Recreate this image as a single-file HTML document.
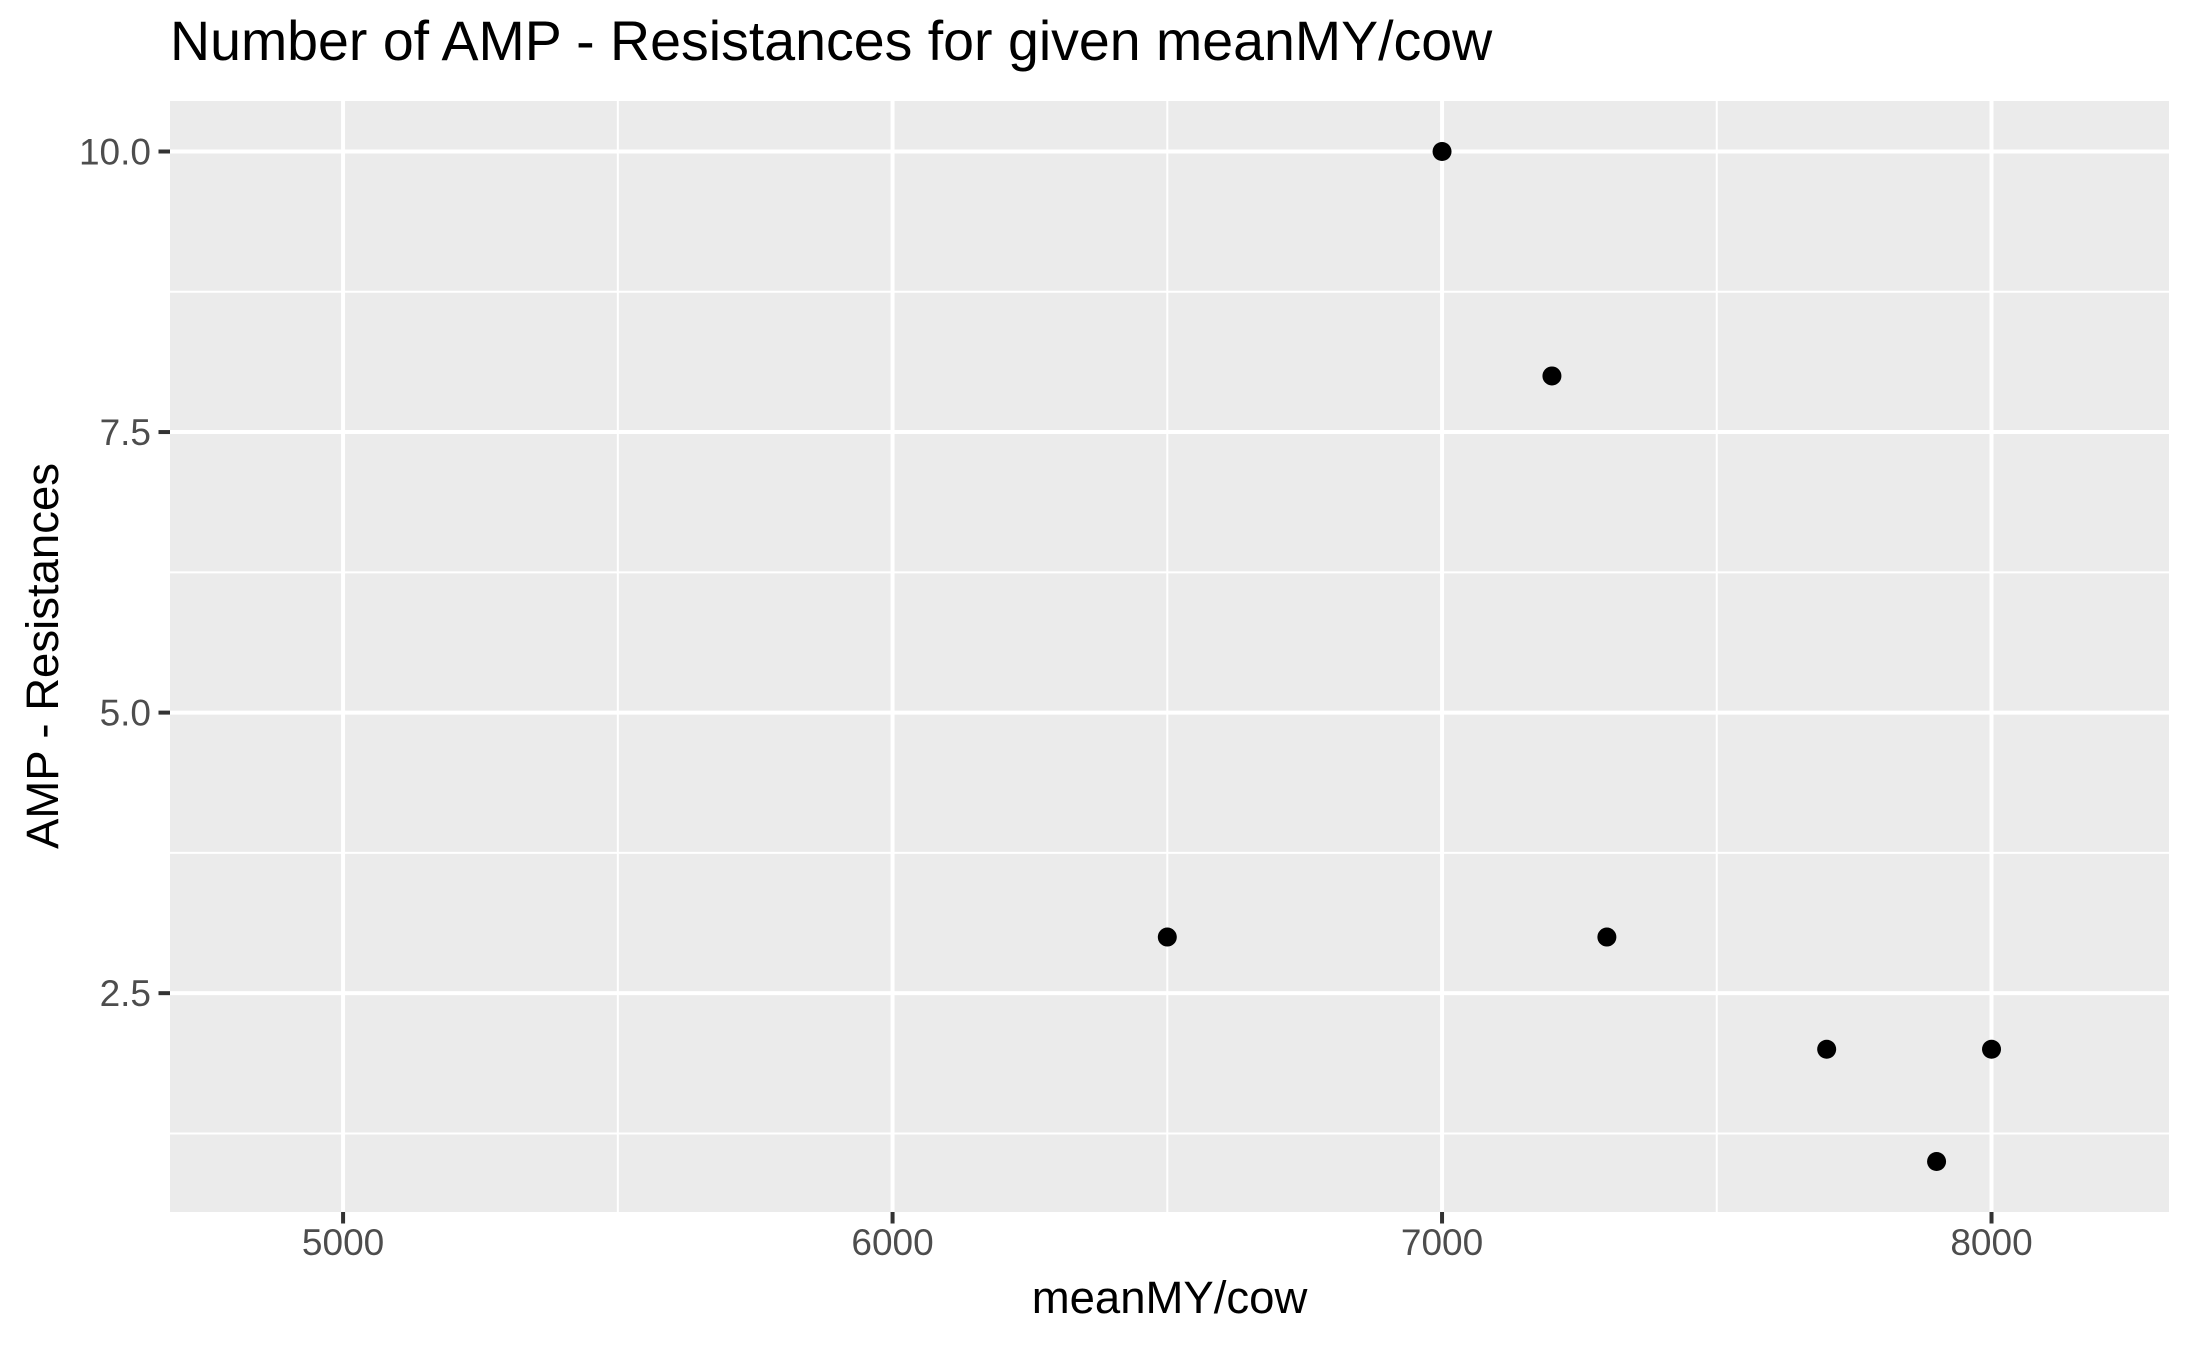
<!DOCTYPE html>
<html><head><meta charset="utf-8"><style>
html,body{margin:0;padding:0;background:#fff;}
svg{display:block;font-family:"Liberation Sans",Arial,sans-serif;}
</style></head><body>
<svg id="chart" width="2187" height="1350" viewBox="0 0 2187 1350">
<rect x="0" y="0" width="2187" height="1350" fill="#fff"/>
<text x="170" y="60" font-size="55.5" fill="#000">Number of AMP - Resistances for given meanMY/cow</text>
<rect x="170" y="101" width="1999" height="1111" fill="#EBEBEB"/>
<g id="grid"></g>
<g id="axes"></g>
<g id="points"></g>
<text x="1169.5" y="1313" font-size="45.5" fill="#000" text-anchor="middle">meanMY/cow</text>
<text transform="translate(58,656) rotate(-90)" font-size="45.5" fill="#000" text-anchor="middle">AMP - Resistances</text>
</svg>
<script>
const xValues = [6500, 7000, 7200, 7300, 7700, 8000, 7900];
const yValues = [3, 10, 8, 3, 2, 2, 1];
const xTicks = [5000, 6000, 7000, 8000];
const xMinor = [5500, 6500, 7500];
const yTicks = [2.5, 5.0, 7.5, 10.0];
const yTickLabels = ["2.5", "5.0", "7.5", "10.0"];
const yMinor = [1.25, 3.75, 6.25, 8.75];

const P = {l:170, r:2169, t:101, b:1212};
const X = {min:4685, max:8323};
const Y = {min:0.55, max:10.45};
const NS = "http://www.w3.org/2000/svg";
function sx(v){return P.l + (v - X.min) / (X.max - X.min) * (P.r - P.l);}
function sy(v){return P.b - (v - Y.min) / (Y.max - Y.min) * (P.b - P.t);}
function mk(tag, attrs){const e=document.createElementNS(NS,tag);for(const k in attrs)e.setAttribute(k,attrs[k]);return e;}

const grid=document.getElementById('grid'), axes=document.getElementById('axes'), pts=document.getElementById('points');

xMinor.forEach(v=>{const l=mk('line',{x1:sx(v),x2:sx(v),y1:P.t,y2:P.b,stroke:'#fff','stroke-width':2});

grid.appendChild(l);});
yMinor.forEach(v=>{const l=mk('line',{x1:P.l,x2:P.r,y1:sy(v),y2:sy(v),stroke:'#fff','stroke-width':2});

grid.appendChild(l);});
xTicks.forEach(v=>{const l=mk('line',{x1:sx(v),x2:sx(v),y1:P.t,y2:P.b,stroke:'#fff','stroke-width':4});

grid.appendChild(l);
const t=mk('line',{x1:sx(v),x2:sx(v),y1:P.b,y2:P.b+11.5,stroke:'#333','stroke-width':4});

axes.appendChild(t);
const tx=mk('text',{x:sx(v),y:1255,'font-size':37,fill:'#4D4D4D','text-anchor':'middle'});
tx.textContent=String(v);

axes.appendChild(tx);});
yTicks.forEach((v,i)=>{const l=mk('line',{x1:P.l,x2:P.r,y1:sy(v),y2:sy(v),stroke:'#fff','stroke-width':4});

grid.appendChild(l);
const t=mk('line',{x1:P.l-11.5,x2:P.l,y1:sy(v),y2:sy(v),stroke:'#333','stroke-width':4});

axes.appendChild(t);
const tx=mk('text',{x:151,y:sy(v)+13,'font-size':37,fill:'#4D4D4D','text-anchor':'end'});
tx.textContent=yTickLabels[i];

axes.appendChild(tx);});
xValues.forEach((v,i)=>{const c=mk('circle',{cx:sx(v),cy:sy(yValues[i]),r:9.5,fill:'#000'});

pts.appendChild(c);});
</script>
</body></html>
